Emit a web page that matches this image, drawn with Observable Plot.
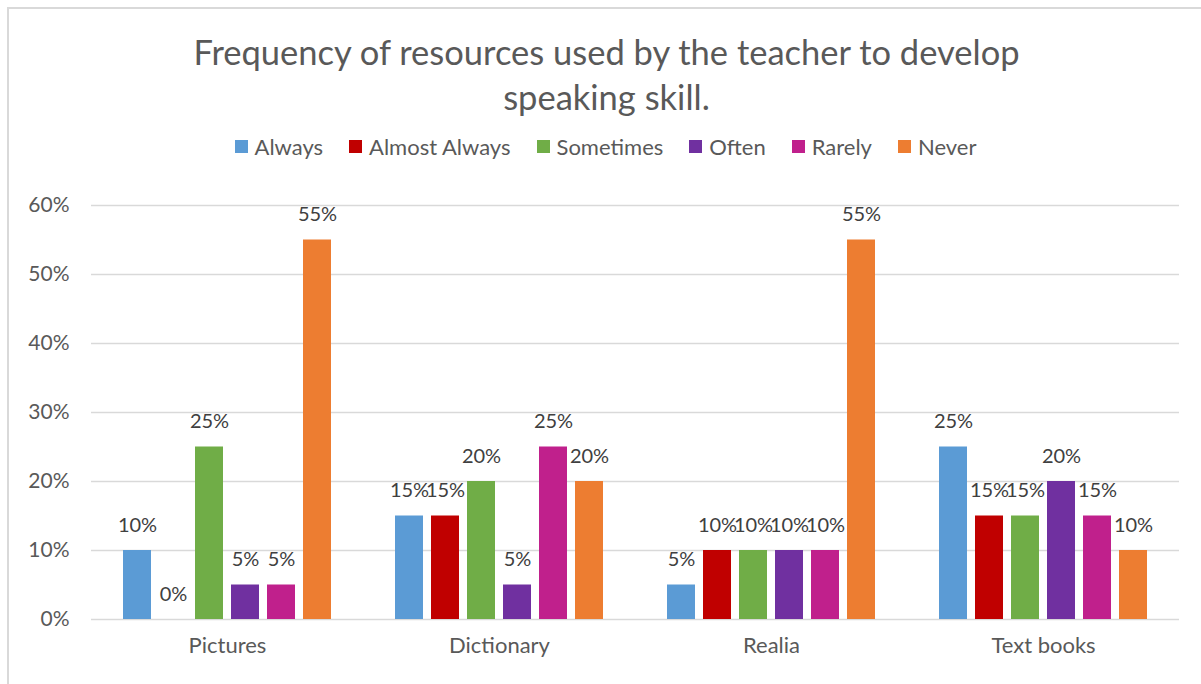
<!DOCTYPE html>
<html>
<head>
<meta charset="utf-8">
<script src="https://cdn.jsdelivr.net/npm/d3@7"></script>
<script src="https://cdn.jsdelivr.net/npm/@observablehq/plot@0.6"></script>
<style>
  html, body { margin: 0; padding: 0; background: #fff; }
  #wrap { position: relative; width: 1201px; height: 684px; overflow: hidden; font-family: Lato, "Open Sans", sans-serif; }
  #frame { position: absolute; left: 7px; top: 7px; width: 1300px; height: 800px; border: 2px solid #d9d9d9; box-sizing: border-box; }
  #title { position: absolute; left: 6px; width: 1201px; top: 29px; text-align: center; font-size: 34.5px; line-height: 45px; color: #595959; }
  #legend { position: absolute; left: 5px; width: 1201px; top: 133px; display: flex; justify-content: center; gap: 26px; font-size: 22px; color: #595959; }
  .item { display: flex; align-items: center; gap: 7px; }
  .sw { width: 13px; height: 13px; display: inline-block; }
  #chart { position: absolute; left: 0; top: 180px; }
</style>
</head>
<body>
<div id="wrap">
  <div id="frame"></div>
  <div id="title">Frequency of resources used by the teacher to develop<br>speaking skill.</div>
  <div id="legend"></div>
  <div id="chart"></div>
</div>
<script>
const categories = ["Pictures", "Dictionary", "Realia", "Text books"];
const series = ["Always", "Almost Always", "Sometimes", "Often", "Rarely", "Never"];
const always = [10, 15, 5, 25];
const almostAlways = [0, 15, 10, 15];
const sometimes = [25, 20, 10, 15];
const often = [5, 5, 10, 20];
const rarely = [5, 25, 10, 15];
const never = [55, 20, 55, 10];
const yTicks = [0, 10, 20, 30, 40, 50, 60];

const colors = ["#5b9bd5", "#c00000", "#70ad47", "#7030a0", "#c0208c", "#ed7d31"];
const seriesValues = [always, almostAlways, sometimes, often, rarely, never];

const data = [];
categories.forEach((c, i) => {
  series.forEach((s, j) => {
    data.push({category: c, series: s, value: seriesValues[j][i]});
  });
});

// legend
const legend = document.getElementById("legend");
series.forEach((s, j) => {
  const it = document.createElement("div");
  it.className = "item";
  const sw = document.createElement("span");
  sw.className = "sw";
  sw.style.background = colors[j];
  const t = document.createElement("span");
  t.textContent = s;
  it.appendChild(sw);
  it.appendChild(t);
  legend.appendChild(it);
});

const chart = Plot.plot({
  width: 1201,
  height: 500,
  marginTop: 25,
  marginBottom: 61,
  marginLeft: 90,
  marginRight: 21,
  style: {fontFamily: "Lato, 'Open Sans', sans-serif", fontSize: "21px", color: "#595959", background: "transparent"},
  fx: {domain: categories, padding: 0, label: null},
  x: {domain: series, paddingInner: 0.215, paddingOuter: 0.86, axis: null},
  y: {domain: [0, 60], label: null},
  color: {domain: series, range: colors},
  marks: [
    Plot.ruleY(yTicks, {stroke: "#d9d9d9", strokeWidth: 1.5}),
    Plot.axisY(yTicks, {tickSize: 0, tickPadding: 22, tickFormat: d => d + "%", fontSize: 21, label: null}),
    Plot.axisFx({anchor: "bottom", tickSize: 0, tickPadding: 18, fontSize: 22, label: null}),
    Plot.barY(data, {fx: "category", x: "series", y: "value", fill: "series"}),
    Plot.text(data, {fx: "category", x: "series", y: "value", text: d => d.value + "%", dy: -25, lineAnchor: "middle", fill: "#404040", fontSize: 20})
  ]
});
document.getElementById("chart").appendChild(chart);
</script>
</body>
</html>
